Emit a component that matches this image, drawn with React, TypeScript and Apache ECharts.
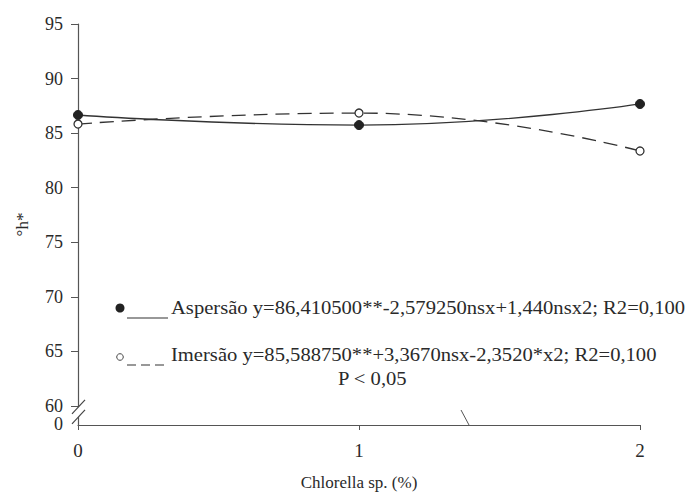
import React, { useEffect, useRef } from "react";
import * as echarts from "echarts";

// ---- data ----
const xValues = [0, 1, 2];
const aspersao = [86.66, 85.74, 87.67];
const imersao = [85.83, 86.84, 83.36];
const yMin = 58.25; // bottom of broken axis, labelled "0"
const yTickValues = [60, 65, 70, 75, 80, 85, 90, 95];
const yBreakLabel = "0";
const xTickValues = [0, 1, 2];
const legendAspersao = "Aspersão y=86,410500**-2,579250nsx+1,440nsx2; R2=0,100";
const legendImersao = "Imersão y=85,588750**+3,3670nsx-2,3520*x2; R2=0,100";
const pText = "P < 0,05";
const xName = "Chlorella sp. (%)";
const yName = "°h*";

const FONT = "'Liberation Serif', 'Times New Roman', serif";
const INK = "#2a2a2a";

export default function App() {
  const ref = useRef<HTMLDivElement>(null);
  useEffect(() => {
    if (!ref.current) return;
    const chart = echarts.init(ref.current, undefined, { renderer: "svg" });
    const option: any = {
      animation: false,
      backgroundColor: "#ffffff",
      grid: {
        left: 78,
        right: 49,
        top: 24,
        bottom: 70,
        containLabel: false,
        outerBoundsMode: "none",
      },
      xAxis: {
        type: "value",
        min: 0,
        max: 2,
        interval: 1,
        name: xName,
        nameLocation: "middle",
        nameGap: 49,
        nameTextStyle: { fontFamily: FONT, fontSize: 17, color: INK },
        axisLine: { show: true, lineStyle: { color: "#555", width: 1.2 } },
        axisTick: { show: true, length: 5, lineStyle: { color: "#555" } },
        axisLabel: {
          margin: 16,
          fontFamily: FONT,
          fontSize: 19,
          color: INK,
          customValues: xTickValues,
        },
        splitLine: { show: false },
      },
      yAxis: {
        type: "value",
        min: yMin,
        max: 95,
        name: yName,
        nameLocation: "middle",
        nameRotate: 90,
        nameGap: 47,
        nameTextStyle: { fontFamily: FONT, fontSize: 17, color: INK },
        axisLine: { show: true, lineStyle: { color: "#555", width: 1.2 } },
        axisTick: {
          show: true,
          length: 7,
          customValues: yTickValues,
          lineStyle: { color: "#555" },
        },
        axisLabel: {
          margin: 15,
          fontFamily: FONT,
          fontSize: 18,
          color: INK,
          customValues: yTickValues,
          formatter: (v: number) => String(Math.round(v)),
        },
        splitLine: { show: false },
      },
      series: [
        {
          name: "Aspersão",
          type: "line",
          smooth: 0.5,
          data: aspersao.map((v, i) => [xValues[i], v]),
          symbol: "circle",
          symbolSize: 9,
          itemStyle: { color: "#222", borderColor: "#222" },
          lineStyle: { color: "#333", width: 1.3, type: "solid" },
          z: 3,
        },
        {
          name: "Imersão",
          type: "line",
          smooth: 0.5,
          data: imersao.map((v, i) => [xValues[i], v]),
          symbol: "circle",
          symbolSize: 8,
          itemStyle: { color: "#fff", borderColor: "#333", borderWidth: 1.3 },
          lineStyle: { color: "#333", width: 1.3, type: [14, 8] },
          z: 4,
        },
      ],
    };
    chart.setOption(option);

    const axisX = chart.convertToPixel({ gridIndex: 0 }, [0, 60])[0];
    const y60 = chart.convertToPixel({ gridIndex: 0 }, [0, 60])[1];
    const yBottom = chart.convertToPixel({ gridIndex: 0 }, [0, yMin])[1];
    const b1 = y60 + 1; // upper slash centre
    const b2 = b1 + 10; // lower slash centre
    const slash = (cy: number) => ({
      type: "line",
      shape: { x1: axisX - 6, y1: cy + 7, x2: axisX + 7, y2: cy - 7 },
      style: { stroke: "#444", lineWidth: 1.2 },
      z: 20,
    });
    const legendText = (text: string, x: number, y: number) => ({
      type: "text",
      x,
      y,
      scaleX: 1.145,
      style: {
        text,
        fontFamily: FONT,
        fontSize: 18,
        fill: INK,
        verticalAlign: "middle",
        align: "left",
      },
      z: 20,
    });

    chart.setOption({
      graphic: [
        {
          type: "polygon",
          shape: {
            points: [
              [axisX - 5, b1 + 6],
              [axisX + 6, b1 - 6],
              [axisX + 6, b2 - 6],
              [axisX - 5, b2 + 6],
            ],
          },
          style: { fill: "#fff" },
          z: 19,
        },
        slash(b1),
        slash(b2),
        {
          type: "text",
          x: axisX - 15,
          y: yBottom - 1,
          style: {
            text: yBreakLabel,
            fontFamily: FONT,
            fontSize: 18,
            fill: INK,
            align: "right",
            verticalAlign: "middle",
          },
          z: 20,
        },
        {
          type: "line",
          shape: { x1: 461, y1: 410, x2: 469, y2: yBottom },
          style: { stroke: "#555", lineWidth: 1 },
          z: 20,
        },
        // legend row 1
        { type: "circle", shape: { cx: 120, cy: 308, r: 4.5 }, style: { fill: "#222" }, z: 20 },
        {
          type: "line",
          shape: { x1: 127, y1: 318, x2: 168, y2: 318 },
          style: { stroke: "#333", lineWidth: 1.2 },
          z: 20,
        },
        legendText(legendAspersao, 171, 308),
        // legend row 2
        {
          type: "circle",
          shape: { cx: 120, cy: 357, r: 3.3 },
          style: { fill: "#fff", stroke: "#444", lineWidth: 1 },
          z: 20,
        },
        {
          type: "line",
          shape: { x1: 127, y1: 365, x2: 168, y2: 365 },
          style: { stroke: "#333", lineWidth: 1.2, lineDash: [9, 5] },
          z: 20,
        },
        legendText(legendImersao, 171, 355),
        legendText(pText, 338, 379),
      ],
    });

    return () => chart.dispose();
  }, []);

  return (
    <div
      ref={ref}
      style={{ position: "fixed", left: 0, top: 0, width: 689, height: 495, background: "#fff" }}
    />
  );
}
